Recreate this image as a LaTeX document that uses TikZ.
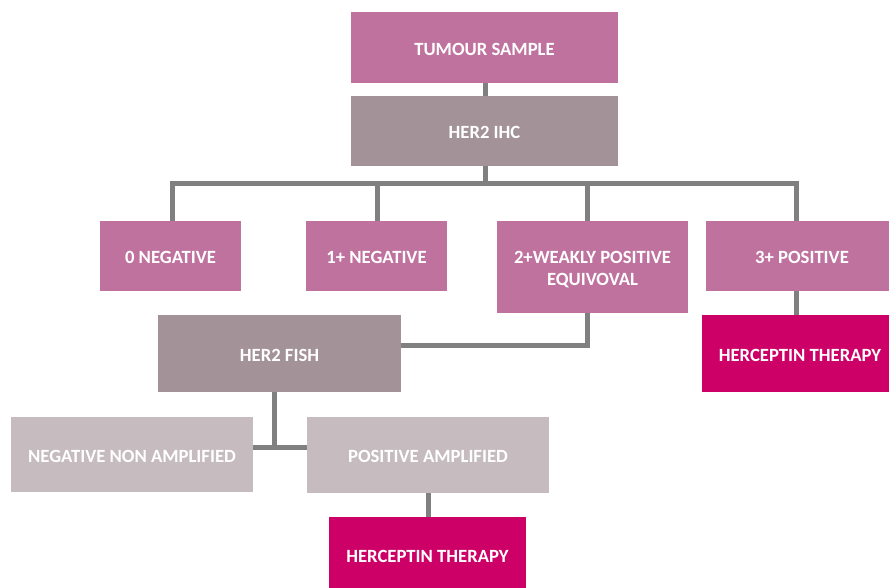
\documentclass[tikz,border=0pt]{standalone}
\usepackage{fontspec}
\setmainfont{Carlito}
\definecolor{pinkc}{HTML}{C0729F}
\definecolor{mauvec}{HTML}{A39298}
\definecolor{lightc}{HTML}{C6BBBE}
\definecolor{magc}{HTML}{CC0066}
\definecolor{linec}{HTML}{808080}
\newcommand\lowtxt[2][1.1pt]{\raisebox{-#1}[\height][\depth]{#2}}
\tikzset{
  box/.style={rectangle, inner sep=0pt, align=center, text=white,
    font=\fontsize{14}{16.5}\selectfont\bfseries},
  wh/.style 2 args={minimum width=#1*0.75pt, minimum height=#2*0.75pt},
  conn/.style={draw=linec, line width=3.75pt, line join=miter, line cap=butt},
}
\begin{document}
\begin{tikzpicture}[x=0.75pt,y=-0.75pt]
\useasboundingbox (0,0) rectangle (889,587);
% nodes
\node[box, fill=pinkc, wh={267}{71}] (tumour) at (484.5,47.5) {\lowtxt{TUMOUR SAMPLE}};
\node[box, fill=mauvec, wh={267}{70}] (ihc) at (484.5,131) {\lowtxt{HER2 IHC}};
\node[box, fill=pinkc, wh={141}{70}] (neg0) at (170.5,256) {\lowtxt{0 NEGATIVE}};
\node[box, fill=pinkc, wh={141}{70}] (neg1) at (376.5,256) {\lowtxt{1+ NEGATIVE}};
\node[box, fill=pinkc, wh={191}{92}] (weak) at (592.5,267) {\lowtxt[2.2pt]{\begin{tabular}{@{}c@{}}2+WEAKLY POSITIVE\\EQUIVOVAL\end{tabular}}};
\node[box, fill=pinkc, wh={192}{70}] (pos3) at (802,256) {\lowtxt{3+ POSITIVE}};
\node[box, fill=magc, wh={196}{77}] (herR) at (800,353.5) {\lowtxt{HERCEPTIN THERAPY}};
\node[box, fill=mauvec, wh={243}{77}] (fish) at (279.5,353.5) {\lowtxt{HER2 FISH}};
\node[box, fill=lightc, wh={242}{75}] (negnon) at (132,454.5) {\lowtxt{NEGATIVE NON AMPLIFIED}};
\node[box, fill=lightc, wh={242}{76}] (posamp) at (428,455) {\lowtxt{POSITIVE AMPLIFIED}};
\node[box, fill=magc, wh={197}{76}] (herB) at (427.5,555) {\lowtxt{HERCEPTIN THERAPY}};
% connector coordinates
\coordinate (b0) at (172,183);
\coordinate (b1) at (377,183);
\coordinate (b2) at (587,183);
\coordinate (b3) at (796,183);
\coordinate (bm) at (485,183);
\coordinate (wk) at (587,345);
\coordinate (fj) at (274,447);
\coordinate (pa) at (428,0);
\coordinate (pr) at (796,0);
% connectors
\draw[conn] (tumour.south -| bm) -- (ihc.north -| bm);
\draw[conn] (ihc.south -| bm) -- (bm);
\draw[conn] (b0 |- neg0.north) -- (b0) -- (b3) -- (b3 |- pos3.north);
\draw[conn] (b1) -- (b1 |- neg1.north);
\draw[conn] (b2) -- (b2 |- weak.north);
\draw[conn] (wk |- weak.south) -- (wk) -- (fish.east |- wk);
\draw[conn] (fj |- fish.south) -- (fj);
\draw[conn] (negnon.east |- fj) -- (posamp.west |- fj);
\draw[conn] (pa |- posamp.south) -- (pa |- herB.north);
\draw[conn] (pr |- pos3.south) -- (pr |- herR.north);
\end{tikzpicture}
\end{document}
